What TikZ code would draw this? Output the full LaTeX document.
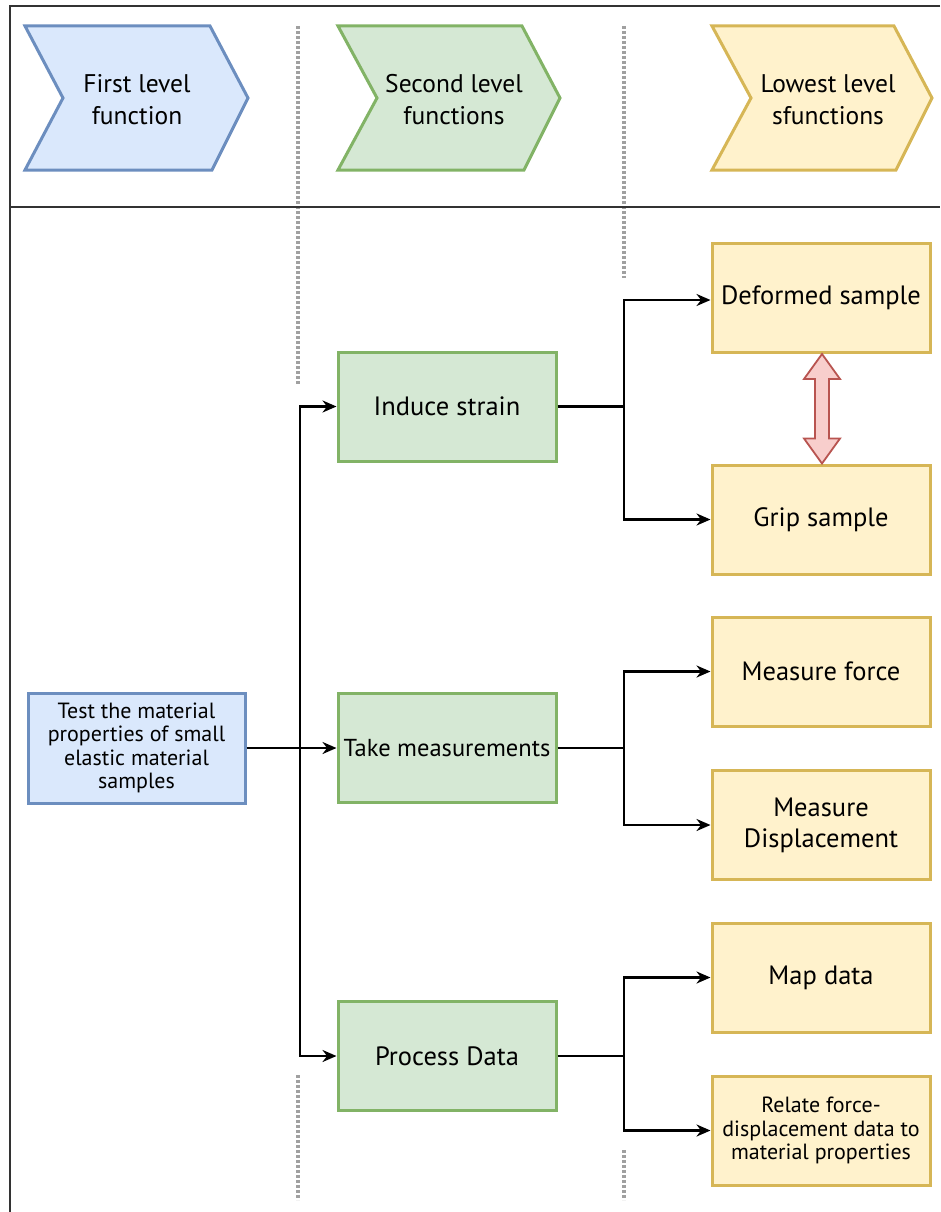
\documentclass[tikz,border=0pt]{standalone}
\usepackage{fontspec}
\setmainfont{PT Sans}
\usetikzlibrary{arrows.meta,calc}
\definecolor{bluefill}{HTML}{DAE8FC}
\definecolor{bluedraw}{HTML}{6C8EBF}
\definecolor{greenfill}{HTML}{D5E8D4}
\definecolor{greendraw}{HTML}{82B366}
\definecolor{yellowfill}{HTML}{FFF2CC}
\definecolor{yellowdraw}{HTML}{D6B656}
\definecolor{redfill}{HTML}{F8CECC}
\definecolor{reddraw}{HTML}{B85450}
\definecolor{frame}{HTML}{333333}
\definecolor{sep}{HTML}{A0A0A0}
\tikzset{
  box/.style={draw, line width=3pt, minimum width=218pt, minimum height=109pt,
    inner sep=2pt, align=center, font=\fontsize{26.5}{31}\selectfont},
  smalltext/.style={font=\fontsize{22}{23.5}\selectfont},
  fbox/.style={box, fill=bluefill, draw=bluedraw},
  sbox/.style={box, fill=greenfill, draw=greendraw},
  lbox/.style={box, fill=yellowfill, draw=yellowdraw},
  chev/.style={line width=3pt, line join=miter},
  chevtext/.style={align=center, font=\fontsize{25.5}{32}\selectfont},
  lane/.style={draw=sep, line width=3.5pt, dash pattern=on 3pt off 2pt},
  arr/.style={draw=black, line width=2.5pt, -{Stealth[length=14pt,width=12pt]}},
  link/.style={draw=black, line width=2.5pt},
}
\begin{document}
\begin{tikzpicture}[x=1pt,y=-1pt]
\useasboundingbox (0,0) rectangle (940,1212);

% lane separators
\draw[lane] (298,26) -- (298,385);
\draw[lane] (298,1075) -- (298,1200);
\draw[lane] (624,26) -- (624,278);
\draw[lane] (624,1150) -- (624,1200);

% outer frame and header divider
\draw[frame, line width=2.5pt] (940,6) -- (10,6) -- (10,1212);
\draw[frame, line width=2.5pt] (10,207) -- (940,207);

% header chevrons
\filldraw[chev, fill=bluefill, draw=bluedraw]
  (25,26) -- (210,26) -- (248,98) -- (212,170) -- (25,170) -- (63,98) -- cycle;
\node[chevtext] (h1) at (137,100) {First level\\function};
\filldraw[chev, fill=greenfill, draw=greendraw]
  (338,26) -- (522,26) -- (560,98) -- (524,170) -- (338,170) -- (377,98) -- cycle;
\node[chevtext] (h2) at (454,100) {Second level\\functions};
\filldraw[chev, fill=yellowfill, draw=yellowdraw]
  (712,26) -- (894,26) -- (932,98) -- (896,170) -- (712,170) -- (751,98) -- cycle;
\node[chevtext] (h3) at (828,100) {Lowest level\\sfunctions};

% first level
\node[fbox, smalltext, minimum width=217pt, minimum height=110pt] (test) at (136.5,748)
  {Test the material\\properties of small\\elastic material\\samples};

% second level
\node[sbox] (induce) at (447,406.5) {Induce strain};
\node[sbox, inner xsep=0pt, font=\fontsize{24.5}{31}\selectfont] (meas) at (447,748)
  {Take measurements};
\node[sbox] (proc)   at (447,1056)  {Process Data};

% lowest level
\node[lbox] (deform) at (821,298)   {\raisebox{1pt}{Deformed sample}};
\node[lbox] (grip)   at (821,519.5) {Grip sample};
\node[lbox] (force)  at (821,671.5) {Measure force};
\node[lbox] (disp)   at (821,825)   {Measure\\Displacement};
\node[lbox] (map)    at (821,977.5) {Map data};
\node[lbox, smalltext] (relate) at (821,1130.5)
  {Relate force-\\displacement data to\\material properties};

% branching connectors
\coordinate (j0) at (300,748);
\coordinate (j1) at (624,406.5);
\coordinate (j2) at (624,748);
\coordinate (j3) at (624,1056);

\draw[link] (test.east) -- (j0);
\draw[arr] (j0) |- (induce.west);
\draw[arr] (j0) -- (meas.west);
\draw[arr] (j0) |- (proc.west);

\draw[link] (induce.east) -- (j1);
\draw[arr] (j1) |- ([yshift=-2pt]deform.west);
\draw[arr] (j1) |- (grip.west);

\draw[link] (meas.east) -- (j2);
\draw[arr] (j2) |- (force.west);
\draw[arr] (j2) |- (disp.west);

\draw[link] (proc.east) -- (j3);
\draw[arr] (j3) |- (map.west);
\draw[arr] (j3) |- (relate.west);

% two-way block arrow between the deformed and the gripped sample
\filldraw[fill=redfill, draw=reddraw, line width=1.8pt, line join=miter]
  ($(deform.south)+(1,0)$) -- ++(18,25) -- ++(-11,0)
  -- ($(grip.north)+(8,-25)$) -- ++(11,0) -- ($(grip.north)+(1,0)$)
  -- ++(-18,-25) -- ++(11,0)
  -- ($(deform.south)+(-6,25)$) -- ++(-11,0) -- cycle;
\end{tikzpicture}
\end{document}
